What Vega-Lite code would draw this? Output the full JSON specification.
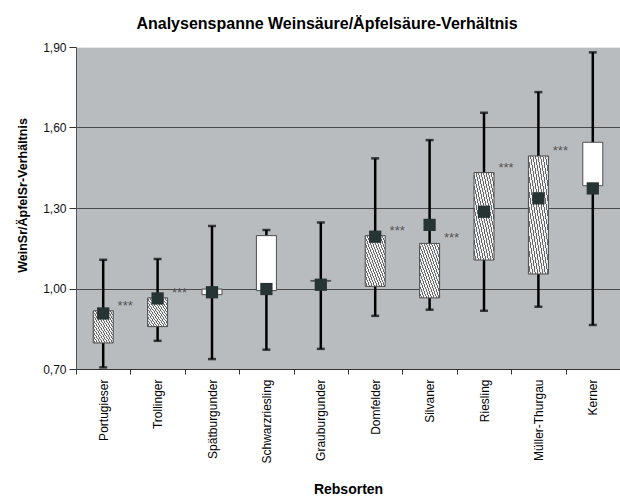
{
  "$schema": "https://vega.github.io/schema/vega-lite/v6.json",
  "width": 544,
  "height": 322,
  "autosize": {"type": "none"},
  "padding": {"left": 76, "top": 47, "right": 0, "bottom": 129},
  "background": "white",
  "title": {
    "text": "Analysenspanne Weinsäure/Äpfelsäure-Verhältnis",
    "font": "Liberation Sans",
    "fontSize": 16,
    "fontWeight": "bold",
    "color": "#000000",
    "anchor": "middle",
    "frame": "group",
    "baseline": "alphabetic",
    "offset": 19,
    "dx": -21,
    "dy": 23
  },
  "config": {
    "view": {"fill": "#b9bcbf", "stroke": null},
    "font": "Liberation Sans"
  },
  "data": {
    "values": [
      {"sorte": "Portugieser", "min": 0.706, "max": 1.107, "open": 0.917, "close": 0.797, "mittel": 0.907, "sig": "***"},
      {"sorte": "Trollinger", "min": 0.805, "max": 1.110, "open": 0.965, "close": 0.858, "mittel": 0.963, "sig": "***"},
      {"sorte": "Spätburgunder", "min": 0.737, "max": 1.233, "open": 0.977, "close": 0.998, "mittel": 0.986, "sig": ""},
      {"sorte": "Schwarzriesling", "min": 0.772, "max": 1.218, "open": 0.992, "close": 1.197, "mittel": 0.998, "sig": ""},
      {"sorte": "Grauburgunder", "min": 0.775, "max": 1.246, "open": 1.030, "close": 1.027, "mittel": 1.014, "sig": ""},
      {"sorte": "Domfelder", "min": 0.898, "max": 1.485, "open": 1.197, "close": 1.008, "mittel": 1.193, "sig": "***"},
      {"sorte": "Silvaner", "min": 0.921, "max": 1.553, "open": 1.168, "close": 0.965, "mittel": 1.237, "sig": "***"},
      {"sorte": "Riesling", "min": 0.917, "max": 1.655, "open": 1.432, "close": 1.106, "mittel": 1.286, "sig": "***"},
      {"sorte": "Müller-Thurgau", "min": 0.932, "max": 1.732, "open": 1.494, "close": 1.054, "mittel": 1.336, "sig": "***"},
      {"sorte": "Kerner", "min": 0.864, "max": 1.880, "open": 1.383, "close": 1.545, "mittel": 1.373, "sig": ""}
    ]
  },
  "encoding": {
    "x": {
      "field": "sorte",
      "type": "nominal",
      "sort": null,
      "scale": {"paddingInner": 0, "paddingOuter": 0},
      "axis": {
        "title": "Rebsorten",
        "titleFont": "Liberation Sans",
        "titleFontSize": 14,
        "titleFontWeight": "bold",
        "titleColor": "#000000",
        "titleY": 124,
        "titleBaseline": "alphabetic",
        "labelAngle": -90,
        "labelFont": "Liberation Sans",
        "labelFontSize": 12,
        "labelColor": "#000000",
        "labelPadding": 5,
        "tickBand": "extent",
        "tickSize": 5,
        "tickColor": "#333333",
        "domainColor": "#333333",
        "grid": false
      }
    }
  },
  "layer": [
    {
      "mark": {"type": "rule", "color": "#000000", "strokeWidth": 2.5},
      "encoding": {
        "y": {
          "field": "min",
          "type": "quantitative",
          "scale": {"domain": [0.7, 1.9], "nice": false, "zero": false},
          "axis": {
            "title": "WeinSr/ÄpfelSr-Verhältnis",
            "titleFont": "Liberation Sans",
            "titleFontSize": 12.5,
            "titleFontWeight": "bold",
            "titleColor": "#000000",
            "titleX": -54,
            "titleY": 148,
            "titleAlign": "center",
            "titleBaseline": "middle",
            "values": [0.7, 1.0, 1.3, 1.6, 1.9],
            "labelExpr": "replace(format(datum.value, '.2f'), '.', ',')",
            "labelFont": "Liberation Sans",
            "labelFontSize": 12,
            "labelColor": "#111111",
            "labelPadding": 3,
            "tickSize": 7,
            "tickColor": "#333333",
            "domainColor": "#555555",
            "grid": true,
            "gridColor": {"condition": {"test": "datum.value >= 1.9", "value": "#e6e6e6"}, "value": "#4a4a4a"},
            "gridWidth": 1
          }
        },
        "y2": {"field": "max"}
      }
    },
    {
      "mark": {"type": "tick", "color": "#000000", "size": 8, "thickness": 2.5},
      "encoding": {"y": {"field": "max", "type": "quantitative"}}
    },
    {
      "mark": {"type": "tick", "color": "#000000", "size": 8, "thickness": 2.5},
      "encoding": {"y": {"field": "min", "type": "quantitative"}}
    },
    {
      "mark": {"type": "bar", "size": 20, "stroke": "#4d4d4d", "strokeWidth": 1},
      "encoding": {
        "y": {"field": "open", "type": "quantitative"},
        "y2": {"field": "close"},
        "fill": {
          "condition": {"test": "datum.close > datum.open", "value": "#ffffff"},
          "value": {
            "gradient": "linear",
            "x1": 1, "y1": 0, "x2": 0, "y2": 1,
            "stops": [
              {"offset": 0, "color": "#686868"}, {"offset": 0.025, "color": "#686868"}, {"offset": 0.025, "color": "#f2f2f2"}, {"offset": 0.0625, "color": "#f2f2f2"},
              {"offset": 0.0625, "color": "#686868"}, {"offset": 0.0875, "color": "#686868"}, {"offset": 0.0875, "color": "#f2f2f2"}, {"offset": 0.125, "color": "#f2f2f2"},
              {"offset": 0.125, "color": "#686868"}, {"offset": 0.15, "color": "#686868"}, {"offset": 0.15, "color": "#f2f2f2"}, {"offset": 0.1875, "color": "#f2f2f2"},
              {"offset": 0.1875, "color": "#686868"}, {"offset": 0.2125, "color": "#686868"}, {"offset": 0.2125, "color": "#f2f2f2"}, {"offset": 0.25, "color": "#f2f2f2"},
              {"offset": 0.25, "color": "#686868"}, {"offset": 0.275, "color": "#686868"}, {"offset": 0.275, "color": "#f2f2f2"}, {"offset": 0.3125, "color": "#f2f2f2"},
              {"offset": 0.3125, "color": "#686868"}, {"offset": 0.3375, "color": "#686868"}, {"offset": 0.3375, "color": "#f2f2f2"}, {"offset": 0.375, "color": "#f2f2f2"},
              {"offset": 0.375, "color": "#686868"}, {"offset": 0.4, "color": "#686868"}, {"offset": 0.4, "color": "#f2f2f2"}, {"offset": 0.4375, "color": "#f2f2f2"},
              {"offset": 0.4375, "color": "#686868"}, {"offset": 0.4625, "color": "#686868"}, {"offset": 0.4625, "color": "#f2f2f2"}, {"offset": 0.5, "color": "#f2f2f2"},
              {"offset": 0.5, "color": "#686868"}, {"offset": 0.525, "color": "#686868"}, {"offset": 0.525, "color": "#f2f2f2"}, {"offset": 0.5625, "color": "#f2f2f2"},
              {"offset": 0.5625, "color": "#686868"}, {"offset": 0.5875, "color": "#686868"}, {"offset": 0.5875, "color": "#f2f2f2"}, {"offset": 0.625, "color": "#f2f2f2"},
              {"offset": 0.625, "color": "#686868"}, {"offset": 0.65, "color": "#686868"}, {"offset": 0.65, "color": "#f2f2f2"}, {"offset": 0.6875, "color": "#f2f2f2"},
              {"offset": 0.6875, "color": "#686868"}, {"offset": 0.7125, "color": "#686868"}, {"offset": 0.7125, "color": "#f2f2f2"}, {"offset": 0.75, "color": "#f2f2f2"},
              {"offset": 0.75, "color": "#686868"}, {"offset": 0.775, "color": "#686868"}, {"offset": 0.775, "color": "#f2f2f2"}, {"offset": 0.8125, "color": "#f2f2f2"},
              {"offset": 0.8125, "color": "#686868"}, {"offset": 0.8375, "color": "#686868"}, {"offset": 0.8375, "color": "#f2f2f2"}, {"offset": 0.875, "color": "#f2f2f2"},
              {"offset": 0.875, "color": "#686868"}, {"offset": 0.9, "color": "#686868"}, {"offset": 0.9, "color": "#f2f2f2"}, {"offset": 0.9375, "color": "#f2f2f2"},
              {"offset": 0.9375, "color": "#686868"}, {"offset": 0.9625, "color": "#686868"}, {"offset": 0.9625, "color": "#f2f2f2"}, {"offset": 1, "color": "#f2f2f2"}
            ]
          }
        }
      }
    },
    {
      "mark": {"type": "point", "shape": "square", "filled": true, "size": 150, "color": "#263434", "opacity": 1},
      "encoding": {"y": {"field": "mittel", "type": "quantitative"}}
    },
    {
      "transform": [{"filter": "datum.sig != ''"}],
      "mark": {"type": "text", "dx": 22, "dy": -5, "align": "center", "baseline": "middle", "fontSize": 13, "font": "Liberation Sans", "color": "#555555"},
      "encoding": {
        "y": {"field": "open", "type": "quantitative"},
        "text": {"field": "sig"}
      }
    }
  ]
}
